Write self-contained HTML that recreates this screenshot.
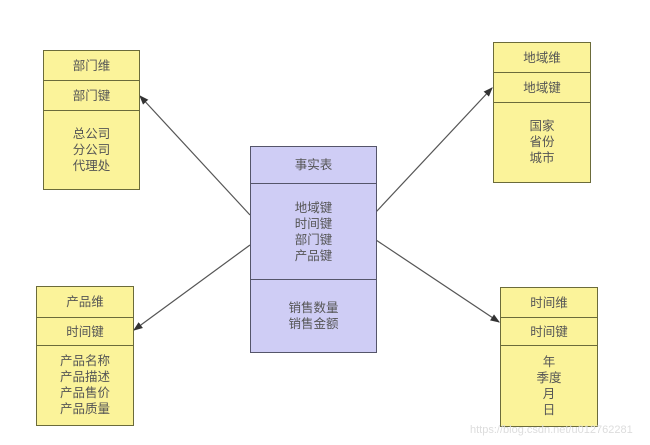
<!DOCTYPE html>
<html><head><meta charset="utf-8"><style>
body{margin:0;width:650px;height:445px;background:#fff;position:relative;overflow:hidden;font-family:"Liberation Sans","Noto Sans CJK SC",sans-serif;}
.b{position:absolute;border:1.5px solid #6b6b3a;background:#fbf39a;box-sizing:border-box;color:#555;font-size:12.5px;text-align:center;line-height:16px;}
.b div{box-sizing:border-box;border-bottom:1.5px solid #6b6b3a;display:flex;align-items:center;justify-content:center;}
.b div:last-child{border-bottom:none;}
.f{background:#cfcdf5;border-color:#55556a;}
.f div{border-color:#55556a;}
svg{position:absolute;left:0;top:0;}
</style></head><body>
<svg width="650" height="445"><defs><marker id="a" markerWidth="8" markerHeight="8" refX="7" refY="4" orient="auto"><path d="M0,1 L8,4 L0,7z" fill="#333"/></marker></defs>
<g stroke="#555" stroke-width="1.2" marker-end="url(#a)">
<line x1="250" y1="215" x2="140" y2="96"/>
<line x1="250" y1="245" x2="134" y2="330"/>
<line x1="376" y1="212" x2="492" y2="88"/>
<line x1="376" y1="240" x2="499" y2="322"/>
</g></svg>
<div class="b" style="left:43px;top:50px;width:97px;height:140px"><div style="height:30px">部门维</div><div style="height:30px">部门键</div><div style="height:77px">总公司<br>分公司<br>代理处</div></div>
<div class="b" style="left:493px;top:42px;width:98px;height:141px"><div style="height:30px">地域维</div><div style="height:30px">地域键</div><div style="height:78px">国家<br>省份<br>城市</div></div>
<div class="b" style="left:36px;top:286px;width:98px;height:140px"><div style="height:31px">产品维</div><div style="height:28px">时间键</div><div style="height:78px">产品名称<br>产品描述<br>产品售价<br>产品质量</div></div>
<div class="b" style="left:500px;top:287px;width:98px;height:140px"><div style="height:30px">时间维</div><div style="height:28px">时间键</div><div style="height:79px">年<br>季度<br>月<br>日</div></div>
<div class="b f" style="left:250px;top:146px;width:127px;height:207px"><div style="height:37px">事实表</div><div style="height:96px">地域键<br>时间键<br>部门键<br>产品键</div><div style="height:71px">销售数量<br>销售金额</div></div>
<div style="position:absolute;left:470px;top:424px;font-size:11px;color:#ddd">https://blog.csdn.net/u012762281</div>
</body></html>
